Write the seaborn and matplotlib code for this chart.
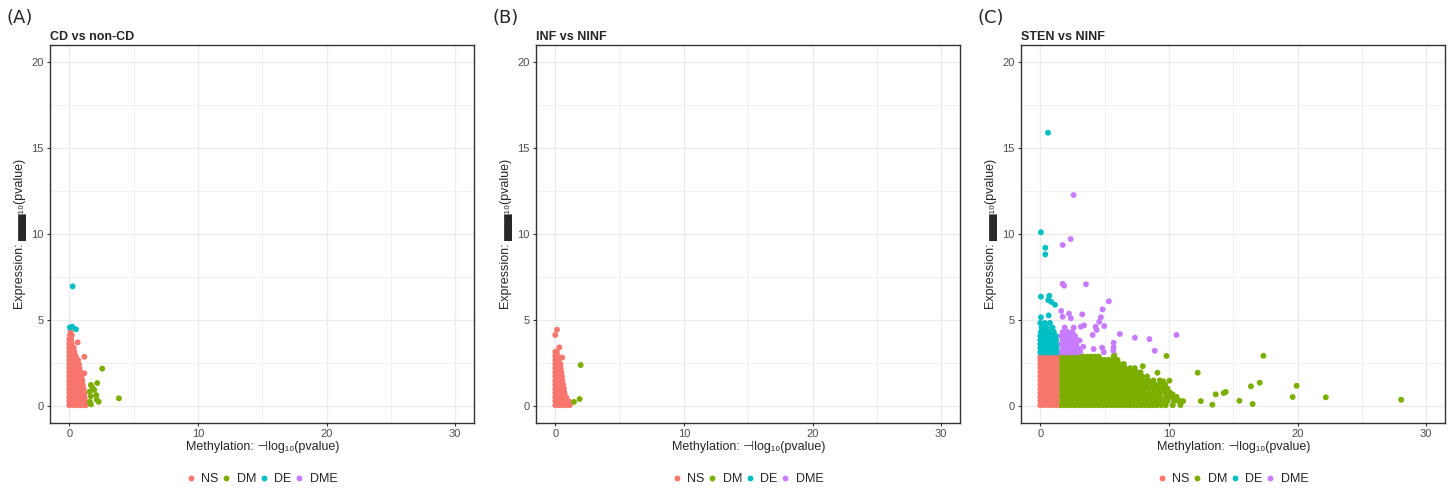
import matplotlib
matplotlib.use("Agg")
import matplotlib.pyplot as plt
import seaborn as sns
import pandas as pd
from matplotlib.lines import Line2D
from matplotlib.ticker import MultipleLocator

# ---------------- labels / categories ----------------
groups = ["NS", "DM", "DE", "DME"]
group_colors = ["#F8766D", "#7CAE00", "#00BFC4", "#C77CFF"]
panel_tags = ["(A)", "(B)", "(C)"]
panel_titles = ["CD vs non-CD", "INF vs NINF", "STEN vs NINF"]
x_ticks = [0, 10, 20, 30]
y_ticks = [0, 5, 10, 15, 20]
x_label = "Methylation: \u22a3log\u2081\u2080(pvalue)"
y_label = "Expression: \u2584\u2584\u2584\u2081\u2080(pvalue)"

# ---------------- data ----------------
# dense clouds are given as rows: (expression value, [methylation values])
# Panel A: CD vs non-CD
a_ns_rows = [
    (0.03, [0.0, 0.3, 0.6, 0.9, 1.2, 1.28]),
    (0.26, [0.0, 0.15, 0.45, 0.75, 1.05, 1.25]),
    (0.50, [0.0, 0.3, 0.6, 0.9, 1.2]),
    (0.74, [0.0, 0.15, 0.45, 0.75, 1.05, 1.18]),
    (0.98, [0.0, 0.3, 0.6, 0.9, 1.12]),
    (1.22, [0.0, 0.15, 0.45, 0.75, 1.05]),
    (1.46, [0.0, 0.3, 0.6, 0.88, 1.02]),
    (1.70, [0.0, 0.15, 0.45, 0.75, 0.95]),
    (1.94, [0.0, 0.3, 0.6, 0.86]),
    (2.18, [0.0, 0.15, 0.45, 0.8]),
    (2.42, [0.0, 0.3, 0.55, 0.75]),
    (2.66, [0.0, 0.15, 0.45, 0.68]),
    (2.90, [0.0, 0.28, 0.5]),
    (3.14, [0.0, 0.15, 0.4]),
    (3.38, [0.0, 0.25, 0.35]),
    (3.62, [0.0, 0.18]),
    (3.86, [0.0, 0.15]),
    (4.10, [0.05, 0.2]),
    (4.32, [0.1]),
]
a_ns_extra = [(0.65, 3.69), (1.17, 2.85), (1.17, 1.89)]
a_dm = [(2.56, 2.16), (2.17, 1.32), (1.68, 1.21), (1.94, 0.92), (1.58, 0.82),
        (2.10, 0.62), (1.68, 0.55), (2.28, 0.23), (2.13, 0.35), (3.86, 0.43),
        (1.60, 0.23), (1.68, 0.08), (1.80, 1.05)]
a_de = [(0.26, 6.95), (0.05, 4.56), (0.23, 4.60), (0.52, 4.45)]

# Panel B: INF vs NINF
b_ns_rows = [
    (0.03, [0.0, 0.3, 0.6, 0.9, 1.12]),
    (0.26, [0.0, 0.15, 0.45, 0.75, 1.05]),
    (0.50, [0.0, 0.3, 0.6, 0.85]),
    (0.74, [0.0, 0.15, 0.45, 0.72]),
    (0.98, [0.0, 0.3, 0.55, 0.68]),
    (1.22, [0.0, 0.15, 0.45, 0.62]),
    (1.46, [0.0, 0.3, 0.55]),
    (1.70, [0.0, 0.15, 0.45, 0.52]),
    (1.94, [0.0, 0.3, 0.48]),
    (2.18, [0.0, 0.15, 0.42]),
    (2.42, [0.0, 0.28, 0.4]),
    (2.66, [0.0, 0.15, 0.25]),
    (2.90, [0.0, 0.2]),
    (3.14, [0.0, 0.12]),
]
b_ns_extra = [(0.13, 4.43), (0.0, 4.12), (0.31, 3.40), (0.54, 2.80)]
b_dm = [(1.97, 2.37), (1.89, 0.39), (1.45, 0.22)]

# Panel C: STEN vs NINF
c_ns_rows = [
    (0.03, [0.0, 0.32, 0.64, 0.96, 1.27]),
    (0.27, [0.0, 0.16, 0.48, 0.8, 1.12, 1.27]),
    (0.51, [0.0, 0.32, 0.64, 0.96, 1.27]),
    (0.75, [0.0, 0.16, 0.48, 0.8, 1.12, 1.27]),
    (0.99, [0.0, 0.32, 0.64, 0.96, 1.27]),
    (1.23, [0.0, 0.16, 0.48, 0.8, 1.12, 1.27]),
    (1.47, [0.0, 0.32, 0.64, 0.96, 1.27]),
    (1.71, [0.0, 0.16, 0.48, 0.8, 1.12, 1.27]),
    (1.95, [0.0, 0.32, 0.64, 0.96, 1.27]),
    (2.19, [0.0, 0.16, 0.48, 0.8, 1.12, 1.27]),
    (2.43, [0.0, 0.32, 0.64, 0.96, 1.27]),
    (2.67, [0.0, 0.16, 0.48, 0.8, 1.12, 1.27]),
    (2.86, [0.0, 0.32, 0.64, 0.96, 1.25]),
]
c_dm_core_a = [1.55, 1.85, 2.15, 2.45, 2.75, 3.05, 3.35, 3.65, 3.95, 4.25, 4.55, 4.85]
c_dm_core_b = [1.7, 2.0, 2.3, 2.6, 2.9, 3.2, 3.5, 3.8, 4.1, 4.4, 4.7, 5.0]
c_dm_rows = [
    (0.03, c_dm_core_a + [5.15, 5.45, 5.75, 6.05, 6.35, 6.65, 6.95, 7.25, 7.55, 7.85,
                          8.15, 8.45, 8.75, 9.05, 9.4, 9.75, 10.3, 10.9]),
    (0.27, c_dm_core_b + [5.3, 5.6, 5.9, 6.2, 6.5, 6.8, 7.1, 7.4, 7.7, 8.0, 8.3, 8.6,
                          8.9, 9.2, 9.55, 9.9, 10.4, 10.8, 11.1]),
    (0.51, c_dm_core_a + [5.15, 5.45, 5.75, 6.05, 6.35, 6.65, 6.95, 7.25, 7.55, 7.9,
                          8.25, 8.6, 9.0, 9.35, 9.8, 10.2, 10.6]),
    (0.75, c_dm_core_b + [5.3, 5.6, 5.9, 6.2, 6.5, 6.8, 7.1, 7.4, 7.7, 8.05, 8.45,
                          8.85, 9.25, 9.7, 10.1]),
    (0.99, c_dm_core_a + [5.15, 5.45, 5.75, 6.05, 6.35, 6.65, 6.95, 7.3, 7.65, 8.0,
                          8.35, 8.75, 9.1, 9.5, 9.9]),
    (1.23, c_dm_core_b + [5.3, 5.6, 5.9, 6.2, 6.5, 6.8, 7.1, 7.45, 7.8, 8.15, 8.55,
                          8.95, 9.35, 9.7]),
    (1.47, c_dm_core_a + [5.15, 5.45, 5.75, 6.05, 6.35, 6.65, 6.95, 7.3, 7.65, 8.0,
                          8.4, 8.8, 9.3]),
    (1.71, c_dm_core_b + [5.3, 5.6, 5.9, 6.2, 6.5, 6.85, 7.2, 7.55, 7.9, 8.3]),
    (1.95, c_dm_core_a + [5.15, 5.45, 5.75, 6.05, 6.4, 6.75, 7.1, 7.45, 7.8]),
    (2.19, c_dm_core_b + [5.3, 5.6, 5.9, 6.25, 6.6, 7.0, 7.35]),
    (2.43, c_dm_core_a + [5.15, 5.45, 5.8, 6.15, 6.5]),
    (2.67, c_dm_core_b + [5.3, 5.65, 6.0]),
    (2.86, [1.55, 1.85, 2.15, 2.45, 2.75, 3.05, 3.35, 3.65, 3.95, 4.25, 4.55, 5.7]),
]
c_dm_extra = [(5.75, 2.95), (7.97, 2.30), (9.11, 1.92), (9.81, 2.90), (10.04, 1.46),
              (9.56, 1.42), (10.3, 0.65), (10.5, 0.45), (10.7, 0.30), (11.0, 0.25),
              (12.24, 1.92), (12.48, 0.27), (13.38, 0.06), (13.64, 0.66),
              (14.26, 0.74), (14.42, 0.80), (15.48, 0.29), (16.38, 1.13),
              (16.51, 0.10), (17.06, 1.34), (17.35, 2.91), (19.62, 0.51),
              (19.93, 1.16), (22.2, 0.49), (28.06, 0.35)]
c_dme_rows = [
    (3.10, [1.6, 1.9, 2.2, 2.5, 2.8]),
    (3.34, [1.75, 2.05, 2.35, 2.65, 2.95]),
    (3.58, [1.6, 1.9, 2.2, 2.5, 2.8]),
    (3.82, [1.75, 2.05, 2.35, 2.65, 2.9]),
    (4.06, [1.6, 1.95, 2.3, 2.7]),
    (4.30, [1.75, 2.1, 2.5]),
    (4.55, [1.9, 2.6]),
]
c_dme_extra = [(2.59, 12.27), (2.36, 9.71), (1.74, 9.36), (1.74, 7.10), (1.86, 6.99),
               (3.55, 7.07), (5.33, 6.08), (4.84, 5.61), (3.26, 5.32), (2.23, 5.36),
               (1.63, 5.52), (2.38, 5.09), (1.74, 5.18), (4.71, 5.15), (4.58, 4.89),
               (4.97, 4.64), (3.40, 4.68), (3.16, 4.60), (4.30, 4.60), (4.38, 4.41),
               (4.07, 4.12), (6.19, 4.18), (7.36, 3.96), (8.49, 3.88), (10.59, 4.12),
               (8.90, 3.20), (5.70, 3.67), (5.70, 3.40), (5.68, 3.20), (4.81, 3.38),
               (4.94, 3.12), (3.34, 3.44), (4.15, 3.30), (3.05, 3.80), (3.10, 3.15)]
c_de_rows = [
    (3.10, [0.0, 0.32, 0.64, 0.96, 1.26]),
    (3.34, [0.0, 0.16, 0.48, 0.8, 1.12, 1.27]),
    (3.58, [0.0, 0.32, 0.64, 0.96, 1.25]),
    (3.82, [0.0, 0.16, 0.48, 0.8, 1.12, 1.24]),
    (4.06, [0.0, 0.35, 0.6, 0.9, 1.2]),
    (4.30, [0.05, 0.4, 0.7, 1.05]),
    (4.55, [0.1, 0.5, 0.95]),
    (4.82, [0.0, 0.35, 0.75]),
]
c_de_extra = [(0.60, 15.9), (0.05, 10.1), (0.39, 9.2), (0.39, 8.81), (0.05, 6.35),
              (0.70, 6.40), (0.62, 6.15), (0.85, 6.05), (1.14, 5.88), (0.65, 5.26),
              (0.05, 5.15)]


def rows_to_pts(rows):
    return [(x, y) for y, xs in rows for x in xs]


def frame(parts):
    recs = []
    for grp, pts in parts:
        for x, y in pts:
            recs.append({"meth": x, "expr": y, "group": grp})
    return pd.DataFrame(recs)


panel_frames = [
    frame([("NS", rows_to_pts(a_ns_rows) + a_ns_extra), ("DM", a_dm), ("DE", a_de)]),
    frame([("NS", rows_to_pts(b_ns_rows) + b_ns_extra), ("DM", b_dm)]),
    frame([("DM", rows_to_pts(c_dm_rows) + c_dm_extra),
           ("NS", rows_to_pts(c_ns_rows)),
           ("DME", rows_to_pts(c_dme_rows) + c_dme_extra),
           ("DE", rows_to_pts(c_de_rows) + c_de_extra)]),
]

# ---------------- figure ----------------
sns.set_theme(style="white")
plt.rcParams["font.family"] = ["Liberation Sans", "DejaVu Sans"]

W, H = 1453, 488
fig = plt.figure(figsize=(W / 100, H / 100), dpi=100)
palette = dict(zip(groups, group_colors))

ax_lefts_px = [50.0, 536.0, 1021.0]
ax_w_px, ax_top_px, ax_bot_px = 424.4, 45.1, 422.9

for i, df in enumerate(panel_frames):
    l = ax_lefts_px[i]
    ax = fig.add_axes([l / W, (H - ax_bot_px) / H, ax_w_px / W,
                       (ax_bot_px - ax_top_px) / H])
    ax.set_axisbelow(True)
    sns.scatterplot(data=df, x="meth", y="expr", hue="group", palette=palette,
                    s=18, linewidth=0, alpha=1, legend=False, ax=ax, zorder=3)
    ax.set_xlim(-1.5, 31.5)
    ax.set_ylim(-1, 21)
    ax.set_xticks(x_ticks)
    ax.set_yticks(y_ticks)
    ax.xaxis.set_minor_locator(MultipleLocator(5))
    ax.yaxis.set_minor_locator(MultipleLocator(2.5))
    ax.grid(which="major", color="#EBEBEB", linewidth=1.0)
    ax.grid(which="minor", color="#EBEBEB", linewidth=0.5)
    ax.tick_params(which="major", length=2.5, width=0.8, color="#333333",
                   labelsize=8, labelcolor="#4D4D4D", pad=2,
                   bottom=True, left=True)
    ax.tick_params(which="minor", length=0)
    for sp in ax.spines.values():
        sp.set_color("#333333")
        sp.set_linewidth(1.0)
    ax.set_xlabel(x_label, fontsize=9, labelpad=1,
                  family=["Liberation Sans", "DejaVu Sans"])
    ax.set_ylabel(y_label, fontsize=9, labelpad=3,
                  family=["Liberation Sans", "DejaVu Sans"])
    ax.set_title(panel_titles[i], loc="left", fontsize=9, fontweight="bold", pad=4)
    fig.text((l - 43.5) / W, 1 - 18 / H, panel_tags[i], fontsize=13,
             family=["DejaVu Sans"], va="center", ha="left")
    handles = [Line2D([], [], marker="o", linestyle="none", markersize=4.2,
                      markerfacecolor=c, markeredgewidth=0) for c in group_colors]
    ax.legend(handles, groups, loc="center", ncol=4, frameon=False,
              bbox_to_anchor=((l + ax_w_px / 2) / W, 8.5 / H),
              bbox_transform=fig.transFigure, fontsize=9,
              handletextpad=0.55, columnspacing=0.3, handlelength=0.6)

fig.savefig("out.png", dpi=100)
